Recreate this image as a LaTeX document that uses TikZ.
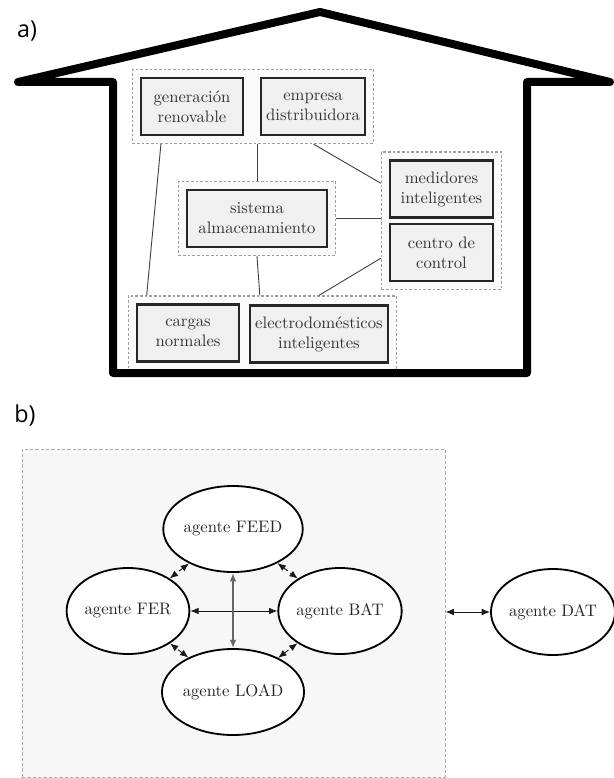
\documentclass[tikz,border=0pt]{standalone}
\usepackage{fontspec}
\newfontfamily\labelfont{Open Sans}
\usetikzlibrary{fit,calc,backgrounds,arrows.meta,shapes.geometric}

\tikzset{
  caja/.style={draw=black!85, line width=1.3pt, fill=gray!12, text=black!80, align=center,
    inner sep=0pt, minimum height=34.2pt},
  grupo/.style={draw=gray!75, dash pattern=on 1.6pt off 1.2pt, line width=0.7pt, fill=gray!4, inner sep=4.5pt},
  enlace/.style={draw=black!75, line width=0.55pt},
  marco/.style={draw=gray!65, dash pattern=on 2pt off 1.2pt, line width=0.6pt, fill=gray!6},
  agente/.style={ellipse, draw=black, line width=1.1pt, fill=white, text=black!85,
    minimum width=72pt, minimum height=51.6pt, inner sep=0pt},
  flecha/.style={{Latex[length=5pt,width=4pt]}-{Latex[length=5pt,width=4pt]}, draw=black!90, line width=0.55pt},
  etiqueta/.style={font=\labelfont\fontsize{14}{16}\selectfont}
}

\begin{document}
\begin{tikzpicture}[x=0.6pt, y=-0.6pt]
    \useasboundingbox (0,0) rectangle (613,778);

    % a) casa
    \node[etiqueta] (lbla) at (27,31) {a)};
    \draw[line width=4.8pt, line join=round] (18,82) -- (113,82) -- (113,373) -- (527,373)
        -- (527,82) -- (610,82) -- (320,12) -- cycle;

    \node[caja, minimum width=61.2pt] (gen) at (192,106.5) {generación\\renovable};
    \node[caja, minimum width=62.4pt] (emp) at (313,106.5) {empresa\\distribuidora};
    \node[caja, minimum width=84pt] (sis) at (257,218.5) {sistema\\almacenamiento};
    \node[caja, minimum width=61.8pt] (med) at (441.5,189) {medidores\\inteligentes};
    \node[caja, minimum width=61.8pt] (cen) at (441.5,252.5) {centro de\\control};
    \node[caja, minimum width=61.2pt] (car) at (188,333) {cargas\\normales};
    \node[caja, minimum width=82.8pt] (ele) at (319,334) {electrodomésticos\\inteligentes};

    \begin{scope}[on background layer]
        \node[grupo, fit=(gen)(emp)] (g1) {};
        \node[grupo, fit=(sis)] (g2) {};
        \node[grupo, fit=(med)(cen)] (g3) {};
        \node[grupo, fit=(car)(ele)] (g4) {};
    \end{scope}

    \draw[enlace] ($(g1.south west)!0.12!(g1.south east)$) -- ($(g4.north west)!0.07!(g4.north east)$);
    \draw[enlace] (g2.north) -- (g2.north |- g1.south);
    \draw[enlace] ($(g1.south west)!0.75!(g1.south east)$) -- ($(g3.north west)!0.23!(g3.south west)$);
    \draw[enlace] (g2.east) -- (g2.east -| g3.west);
    \draw[enlace] (g2.south) -- ($(g4.north west)!0.49!(g4.north east)$);
    \draw[enlace] ($(g3.north west)!0.77!(g3.south west)$) -- ($(g4.north west)!0.71!(g4.north east)$);

    % b) agentes
    \node[etiqueta] (lblb) at (25,415) {b)};
    \node[marco, minimum width=253.8pt, minimum height=196.8pt] (sma) at (233.5,613) {};

    \node[agente] (feed) at (233,529) {agente FEED};
    \node[agente] (fer) at (128,611) {agente FER};
    \node[agente] (bat) at (340,611) {agente BAT};
    \node[agente] (load) at (233,692) {agente LOAD};
    \node[agente] (dat) at (553,612) {agente DAT};

    \draw[flecha] (fer) -- (bat);
    \draw[flecha, draw=black!60, line width=1pt] (feed) -- (load);
    \foreach \a/\b in {feed/fer, feed/bat, load/fer, load/bat}
        \draw[flecha, densely dashed] (\a) -- (\b);
    \draw[flecha] (sma.east |- dat) -- (dat);

\end{tikzpicture}
\end{document}
